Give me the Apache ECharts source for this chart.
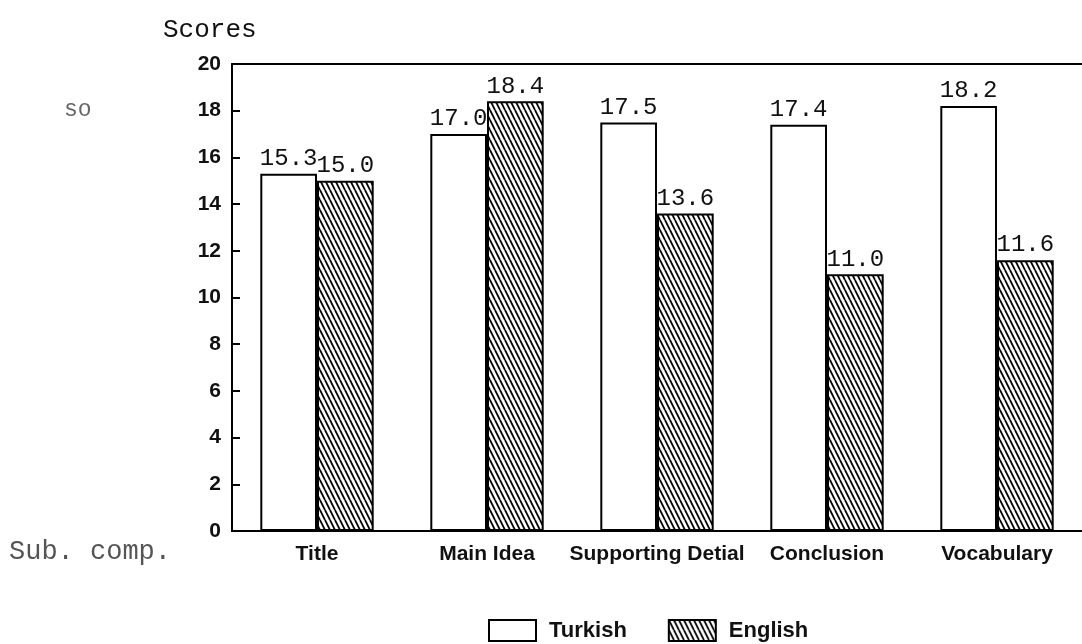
<!DOCTYPE html>
<html>
<head>
<meta charset="utf-8">
<script src="https://cdn.jsdelivr.net/npm/echarts@6/dist/echarts.min.js"></script>
<style>
  html, body { margin: 0; padding: 0; background: #fff; }
  #chart { width: 1082px; height: 644px; }
</style>
</head>
<body>
<div id="chart"></div>
<script>
// data
const categories = ["Title", "Main Idea", "Supporting Detial", "Conclusion", "Vocabulary"];
const turkish = [15.3, 17.0, 17.5, 17.4, 18.2];
const english = [15.0, 18.4, 13.6, 11.0, 11.6];

// diagonal hatching used for the English bars
const hatch = () => {
  const c = document.createElement("canvas");
  const w = 5, h = 10;
  c.width = w; c.height = h;
  const ctx = c.getContext("2d");
  ctx.fillStyle = "#fff";
  ctx.fillRect(0, 0, w, h);
  ctx.strokeStyle = "#000";
  ctx.lineWidth = 1.8;
  [-w, 0, w].forEach((x0) => {
    ctx.beginPath();
    ctx.moveTo(x0, 0);
    ctx.lineTo(x0 + w, h);
    ctx.stroke();
  });
  return c;
};

const mono = "'Liberation Mono', 'DejaVu Sans Mono', monospace";
const sans = "'Liberation Sans', Arial, sans-serif";

const chart = echarts.init(document.getElementById("chart"));

const valueLabel = {
  show: true,
  position: "top",
  distance: 3,
  fontFamily: mono,
  fontSize: 24,
  color: "#111",
  formatter: (p) => p.value.toFixed(1),
};

chart.setOption({
  animation: false,
  backgroundColor: "#fff",
  title: {
    text: "Scores",
    left: 158,
    top: 12,
    textStyle: { fontFamily: mono, fontSize: 26, fontWeight: "normal", color: "#111" },
  },
  graphic: [
    { type: "text", left: 64, top: 98, style: { text: "so", font: "23px " + mono, fill: "#666" } },
    { type: "text", left: 9, top: 538, style: { text: "Sub. comp.", font: "27px " + mono, fill: "#555" } },
  ],
  legend: {
    left: 483,
    top: 614,
    itemWidth: 47,
    itemHeight: 21,
    itemGap: 41,
    icon: "rect",
    textStyle: { fontFamily: sans, fontWeight: "bold", fontSize: 22, color: "#111", padding: [0, 0, 0, 8] },
    data: ["Turkish", "English"],
  },
  grid: { left: 232, top: 64, width: 856, height: 467 },
  xAxis: [
    {
      type: "category",
      data: categories,
      axisLine: { lineStyle: { color: "#000", width: 2 } },
      axisTick: { show: false },
      axisLabel: { interval: 0, margin: 13, fontFamily: sans, fontWeight: "bold", fontSize: 21, color: "#111" },
    },
    {
      type: "category",
      position: "top",
      data: categories,
      axisLine: { lineStyle: { color: "#000", width: 2 } },
      axisTick: { show: false },
      axisLabel: { show: false },
    },
  ],
  yAxis: {
    type: "value",
    min: 0,
    max: 20,
    interval: 2,
    axisLine: { show: true, lineStyle: { color: "#000", width: 2 } },
    axisTick: { show: true, inside: true, length: 8, lineStyle: { color: "#000", width: 2 } },
    splitLine: { show: false },
    axisLabel: { margin: 11, fontFamily: sans, fontWeight: "bold", fontSize: 21, color: "#111" },
  },
  series: [
    {
      name: "Turkish",
      type: "bar",
      data: turkish,
      barGap: "0%",
      barCategoryGap: "33.3%",
      itemStyle: { color: "#fff", borderColor: "#000", borderWidth: 2 },
      label: valueLabel,
    },
    {
      name: "English",
      type: "bar",
      data: english,
      itemStyle: {
        color: { image: hatch(), repeat: "repeat" },
        borderColor: "#000",
        borderWidth: 2,
      },
      label: valueLabel,
    },
  ],
});
</script>
</body>
</html>
